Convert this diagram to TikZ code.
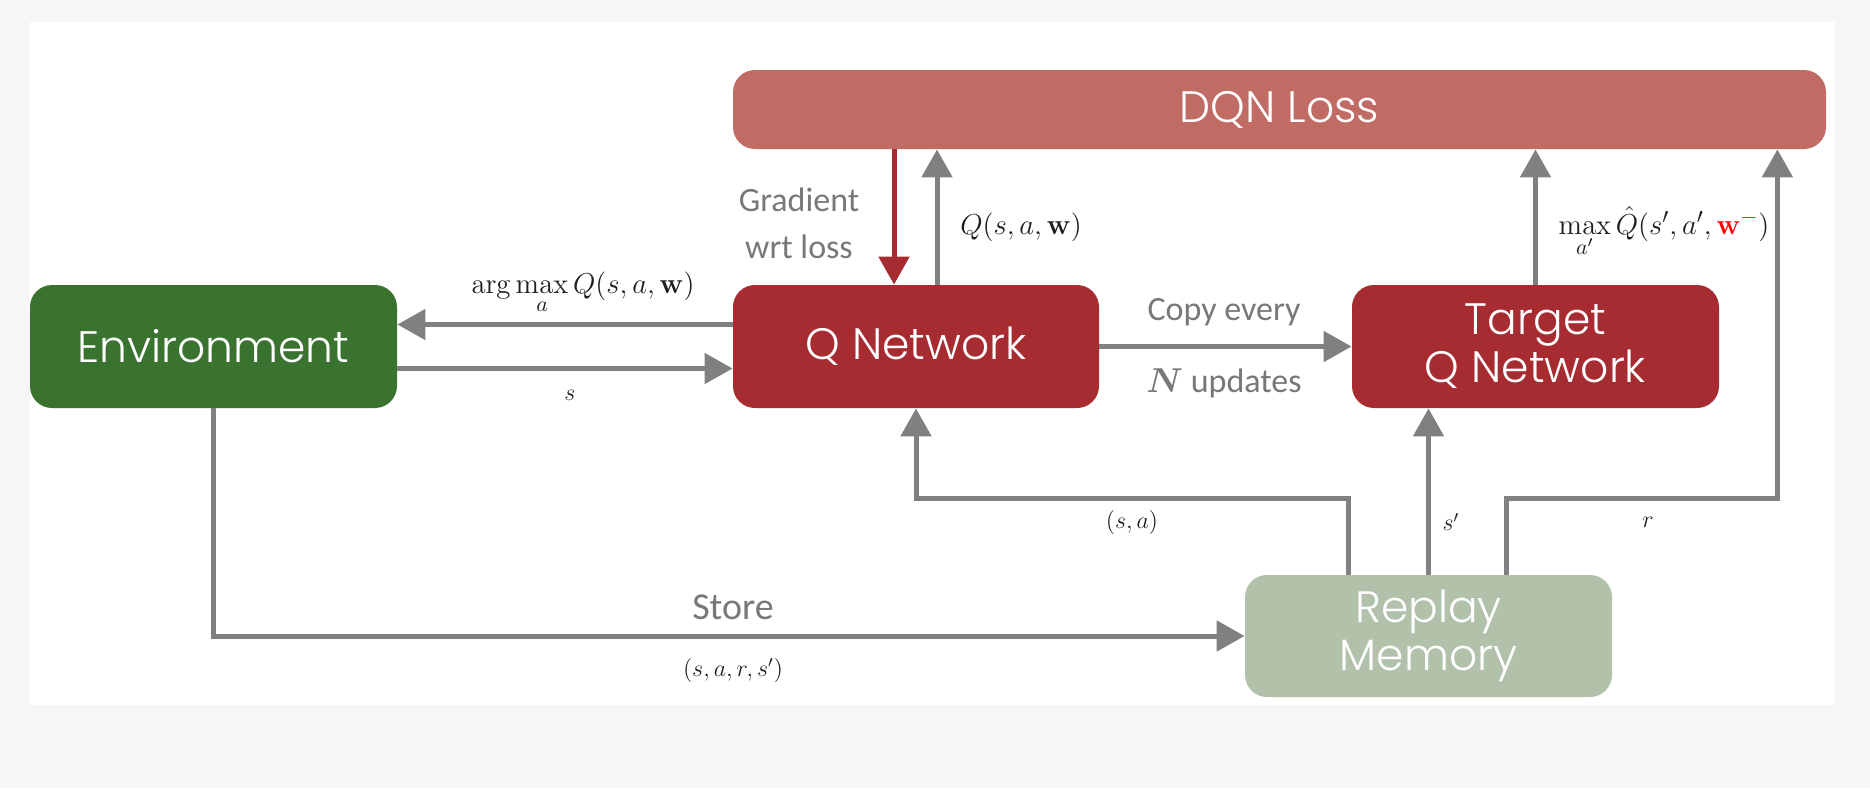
\documentclass[tikz,border=0pt]{standalone}
\usepackage{amsmath}
\usepackage[no-math]{fontspec}
\setmainfont{Carlito}
\newfontfamily\boxfont{Poppins}[UprightFont=* Light]
\usetikzlibrary{arrows.meta}
\definecolor{envgreen}{RGB}{58,114,48}
\definecolor{qred}{RGB}{166,44,49}
\definecolor{lossred}{RGB}{192,108,100}
\definecolor{replaygreen}{RGB}{177,193,170}
\definecolor{arrowgray}{RGB}{128,128,128}
\definecolor{labelgray}{RGB}{120,120,120}
\definecolor{bggray}{RGB}{246,246,246}
\definecolor{mathink}{RGB}{30,30,30}
\tikzset{
  box/.style={rounded corners=11pt, text=white, align=center, inner sep=0pt,
    font=\boxfont\fontsize{22}{24}\selectfont},
  arr/.style={draw=arrowgray, line width=2.5pt, -{Triangle[width=15pt,length=14pt]}},
  redarr/.style={draw=qred, line width=2.5pt, -{Triangle[width=15pt,length=14pt]}},
  glabel/.style={text=labelgray, inner sep=0pt, align=center, font=\fontsize{17}{23.5}\selectfont},
  mlabel/.style={text=mathink, inner sep=0pt, font=\fontsize{15.5}{18}\selectfont},
  slabel/.style={text=mathink, inner sep=0pt, font=\fontsize{12}{14}\selectfont}
}
\begin{document}
\begin{tikzpicture}[x=0.5pt,y=-0.5pt]
\useasboundingbox (0,0) rectangle (1870,788);
\fill[bggray] (0,0) rectangle (1870,788);
\fill[white] (30,22) rectangle (1835,705);

% boxes
\node[box, fill=envgreen, minimum width=183.5pt, minimum height=61.5pt] (env) at (213.5,346.5) {Environment};
\node[box, fill=qred, minimum width=183pt, minimum height=61.5pt] (qnet) at (916,346.5) {Q Network};
\node[box, fill=qred, minimum width=183.5pt, minimum height=61.5pt] (target) at (1535.5,346.5) {Target\\Q Network};
\node[box, fill=lossred, minimum width=546.5pt, minimum height=39.5pt] (loss) at (1279.5,109.5) {DQN Loss};
\node[box, fill=replaygreen, minimum width=183.5pt, minimum height=61pt] (replay) at (1428.5,636) {Replay\\Memory};

% connectors
\coordinate (gq) at ([xshift=-11pt]qnet.north);
\draw[redarr] (gq |- loss.south) -- (gq);
\coordinate (qq) at ([xshift=10.5pt]qnet.north);
\draw[arr] (qq) -- (qq |- loss.south);
\draw[arr] ([yshift=11pt]qnet.west) -- ([yshift=11pt]env.east);
\draw[arr] ([yshift=-11pt]env.east) -- ([yshift=-11pt]qnet.west);
\draw[arr] (qnet.east) -- (target.west);
\draw[arr] (target.north) -- (target.north |- loss.south);
\draw[arr] (replay.north) -- (replay.north |- target.south);
\coordinate (sa) at ([xshift=-40pt]replay.north);
\coordinate (sabend) at ([yshift=38pt]sa);
\draw[arr] (sa) -- (sabend) -| (qnet.south);
\coordinate (rr) at ([xshift=39pt]replay.north);
\coordinate (rbend) at ([yshift=38pt]rr);
\coordinate (rtop) at ([xshift=-24.5pt]loss.south east);
\draw[arr] (rr) -- (rbend) -| (rtop);
\draw[arr] (env.south) |- (replay.west);

% labels
\node[glabel] (gradlbl) at (799,223) {Gradient\\wrt loss};
\node[mlabel] (qlbl) at (1021,227) {$Q(s,a,\mathbf{w})$};
\node[mlabel] (amlbl) at (583,293) {$\arg\max\limits_a Q(s,a,\mathbf{w})$};
\node[slabel] (slbl) at (570,395) {$s$};
\node[glabel] (copylbl) at (1224,312) {Copy every};
\node[glabel] (nlbl) at (1224,383) {{\boldmath$N$} updates};
\node[mlabel] (maxlbl) at (1664,232) {$\max\limits_{a'}\hat{Q}(s',a',\textcolor{red}{\mathbf{w}^{-}})$};
\node[slabel] (salbl) at (1132,522) {$(s,a)$};
\node[slabel] (splbl) at (1451,522) {$s'$};
\node[slabel] (rlbl) at (1648,522) {$r$};
\node[glabel, font=\fontsize{19}{22}\selectfont] (storelbl) at (733,607) {Store};
\node[slabel] (tuplbl) at (733,670) {$(s,a,r,s')$};
\end{tikzpicture}
\end{document}
